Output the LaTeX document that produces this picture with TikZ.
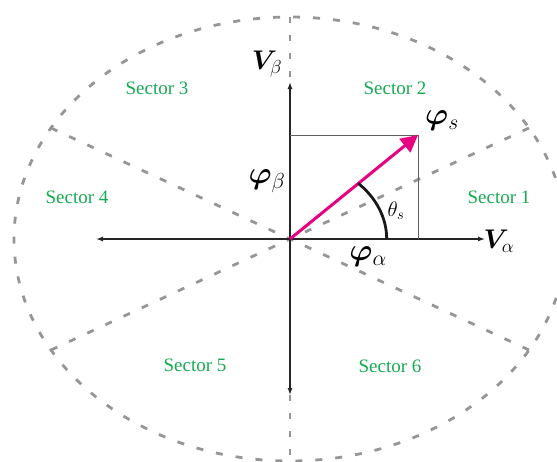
\RequirePackage{fix-cm}
\documentclass[tikz,border=0pt]{standalone}
\usepackage{bm}
\usepackage[no-math]{fontspec}
\setmainfont{Liberation Serif}
\usetikzlibrary{arrows.meta}
\definecolor{secgreen}{RGB}{22,170,82}
\definecolor{vecpink}{RGB}{232,0,130}
\definecolor{dashgray}{RGB}{150,150,150}
\definecolor{boxgray}{RGB}{95,95,95}
\begin{document}
\begin{tikzpicture}[x=1pt,y=-1pt,
  sectorlabel/.style={text=secgreen, font=\fontsize{19}{21}\selectfont, inner sep=0pt},
  vlabel/.style={font=\fontsize{27}{30}\selectfont, inner sep=0pt},
  philabel/.style={font=\fontsize{31}{33}\selectfont, inner sep=0pt},
  midlabel/.style={font=\fontsize{21}{23}\selectfont, inner sep=0pt},
  gdash/.style={draw=dashgray, line width=2.8pt, dash pattern=on 7pt off 13pt},
  vdash/.style={draw=dashgray, line width=2.8pt, dash pattern=on 6pt off 12pt},
  axisline/.style={draw=black!85, line width=1.3pt, {Latex[length=7pt,width=5pt]}-{Latex[length=7pt,width=5pt]}},
  boxline/.style={draw=boxgray, line width=1pt},
  vecline/.style={draw=vecpink, line width=3pt, -{Triangle[length=17pt,width=17pt]}},
  anglearc/.style={draw=black!90, line width=2.8pt}]
\useasboundingbox (0,0) rectangle (557,461);
\clip (0,0) rectangle (557,461);
% key points
\coordinate (O) at (290,239);
\coordinate (E30) at (529,128);
\coordinate (E150) at (51,128);
\coordinate (E210) at (51,350);
\coordinate (E330) at (529,350);
\coordinate (Etop) at (290,17);
\coordinate (Ebot) at (290,461);
\coordinate (AxL) at (96,239);
\coordinate (AxR) at (485,239);
\coordinate (AxT) at (290,82);
\coordinate (AxB) at (290,395);
\coordinate (S) at (418,135);
\coordinate (SB) at (290,135);
\coordinate (SA) at (418,239);
% sector boundaries
\draw[gdash] (O) ellipse[x radius=276, y radius=222];
\draw[gdash] (E150) -- (O) -- (E330);
\draw[gdash] (E210) -- (O) -- (E30);
\draw[vdash] (Etop) -- (Ebot);
% axes
\draw[axisline] (AxL) -- (AxR);
\draw[axisline] (AxB) -- (AxT);
% projection box
\draw[boxline] (SB) -- (S) -- (SA);
% flux vector
\draw[vecline] (O) -- (S);
% angle arc
\draw[anglearc] ([xshift=96.7pt]O) arc[start angle=0, end angle=-45.1, x radius=96.7, y radius=78.6];
% labels
\node[vlabel] (vb) at (267,64) {$\bm{V}_{\beta}$};
\node[vlabel] (va) at (499,241) {$\bm{V}_{\alpha}$};
\node[philabel] (ps) at (442,121) {$\bm{\varphi}_{s}$};
\node[philabel] (pb) at (267,181) {$\bm{\varphi}_{\beta}$};
\node[philabel] (pa) at (368,257) {$\bm{\varphi}_{\alpha}$};
\node[midlabel] (th) at (396,211) {$\theta_{s}$};
\node[sectorlabel] (s1) at (499,197) {Sector 1};
\node[sectorlabel] (s2) at (395,88) {Sector 2};
\node[sectorlabel] (s3) at (157,88) {Sector 3};
\node[sectorlabel] (s4) at (77,197) {Sector 4};
\node[sectorlabel] (s5) at (195,365) {Sector 5};
\node[sectorlabel] (s6) at (390,366) {Sector 6};
\end{tikzpicture}
\end{document}
